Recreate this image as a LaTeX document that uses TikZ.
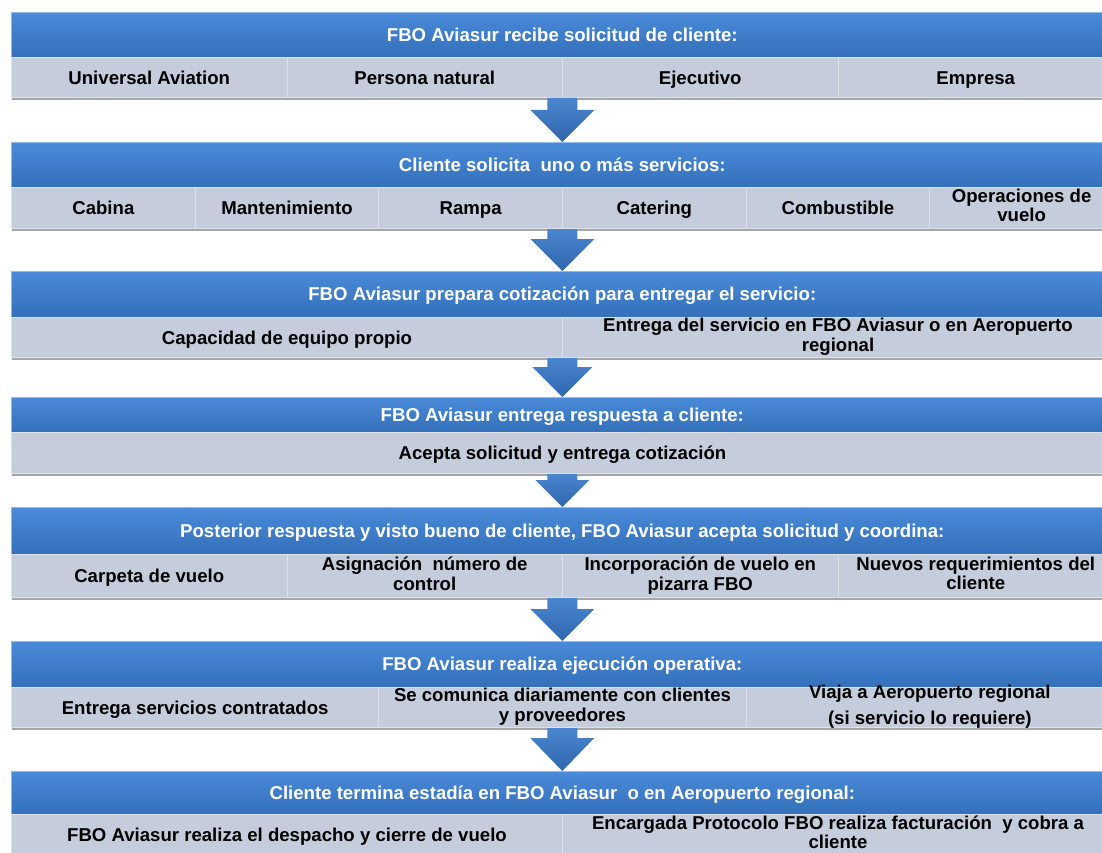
\documentclass[tikz,border=0pt]{standalone}
\usepackage{fontspec}
\setmainfont{Liberation Sans}
\usetikzlibrary{calc,shadows}
\definecolor{hTop}{HTML}{4A8AD8}
\definecolor{hBot}{HTML}{3470BA}
\definecolor{cellc}{HTML}{C5CDDD}
\definecolor{cellline}{HTML}{DCE1EA}
\definecolor{arrTop}{HTML}{4A86CF}
\definecolor{arrBot}{HTML}{2F66AE}
\newcommand\lowstrut{\rule[-5pt]{0pt}{23.2pt}}
\tikzset{
 txtfont/.style={font=\bfseries\fontsize{18.6}{19.5}\selectfont, execute at begin node={\lowstrut}, execute at end node={\lowstrut}},
 hdr/.style={anchor=north west, inner sep=0pt, minimum width=1102pt, top color=hTop, bottom color=hBot, draw=hTop!60!white, line width=0.6pt, text=white, txtfont},
 cell/.style={anchor=north west, inner sep=0pt, fill=cellc, draw=cellline, line width=1pt, text=black, align=center, txtfont, drop shadow={shadow xshift=0pt, shadow yshift=-2.5pt, opacity=0.35, fill=black}},
 barrow/.style={top color=arrTop, bottom color=arrBot, draw=none}
}
\newcommand\blockarrow[4]{%
  \path[barrow] let \p1=#1, \p2=#2 in
   (\x1-15pt,\y1) -- (\x1+15pt,\y1) -- (\x1+15pt,\y2+#3) -- (\x1+#4,\y2+#3) -- (\x1,\y2) -- (\x1-#4,\y2+#3) -- (\x1-15pt,\y2+#3) -- cycle;}
\begin{document}
\begin{tikzpicture}[x=1pt,y=-1pt]
\useasboundingbox (0,0) rectangle (1102,853);
\clip (0,0) rectangle (1102,853);
% Block 1
\node[hdr, minimum height=45pt] (h1) at (11,12) {FBO Aviasur recibe solicitud de cliente:};
\node[cell, minimum width=275.5pt, minimum height=40pt] (c1a) at (11,57) {Universal Aviation};
\node[cell, minimum width=275.5pt, minimum height=40pt] (c1b) at (286.5,57) {Persona natural};
\node[cell, minimum width=275.5pt, minimum height=40pt] (c1c) at (562,57) {Ejecutivo};
\node[cell, minimum width=275.5pt, minimum height=40pt] (c1d) at (837.5,57) {Empresa};
% Block 2
\node[hdr, minimum height=45pt] (h2) at (11,142) {Cliente solicita\ \ uno o más servicios:};
\node[cell, minimum width=183.67pt, minimum height=41pt] (c2a) at (11,187) {Cabina};
\node[cell, minimum width=183.67pt, minimum height=41pt] (c2b) at (194.67,187) {Mantenimiento};
\node[cell, minimum width=183.67pt, minimum height=41pt] (c2c) at (378.33,187) {Rampa};
\node[cell, minimum width=183.67pt, minimum height=41pt] (c2d) at (562,187) {Catering};
\node[cell, minimum width=183.67pt, minimum height=41pt] (c2e) at (745.67,187) {Combustible};
\node[cell, minimum width=183.67pt, minimum height=41pt] (c2f) at (929.33,187) {Operaciones de\\vuelo};
% Block 3
\node[hdr, minimum height=46pt] (h3) at (11,271) {FBO Aviasur prepara cotización para entregar el servicio:};
\node[cell, minimum width=551pt, minimum height=40pt] (c3a) at (11,317) {Capacidad de equipo propio};
\node[cell, minimum width=551pt, minimum height=40pt] (c3b) at (562,317) {Entrega del servicio en FBO Aviasur o en Aeropuerto\\regional};
% Block 4
\node[hdr, minimum height=35pt] (h4) at (11,397) {FBO Aviasur entrega respuesta a cliente:};
\node[cell, minimum width=1102pt, minimum height=41pt] (c4a) at (11,432) {Acepta solicitud y entrega cotización};
% Block 5
\node[hdr, minimum height=47pt] (h5) at (11,507) {Posterior respuesta y visto bueno de cliente, FBO Aviasur acepta solicitud y coordina:};
\node[cell, minimum width=275.5pt, minimum height=43pt] (c5a) at (11,554) {Carpeta de vuelo};
\node[cell, minimum width=275.5pt, minimum height=43pt] (c5b) at (286.5,554) {Asignación\ \ número de\\control};
\node[cell, minimum width=275.5pt, minimum height=43pt] (c5c) at (562,554) {Incorporación de vuelo en\\pizarra FBO};
\node[cell, minimum width=275.5pt, minimum height=43pt] (c5d) at (837.5,554) {Nuevos requerimientos del\\cliente};
% Block 6
\node[hdr, minimum height=46pt] (h6) at (11,641) {FBO Aviasur realiza ejecución operativa:};
\node[cell, minimum width=367.33pt, minimum height=40pt] (c6a) at (11,687) {Entrega servicios contratados};
\node[cell, minimum width=367.33pt, minimum height=40pt] (c6b) at (378.33,687) {Se comunica diariamente con clientes\\y proveedores};
\node[cell, minimum width=367.33pt, minimum height=40pt, inner ysep=-6pt] (c6c) at (745.67,687) {Viaja a Aeropuerto regional\\[6pt](si servicio lo requiere)};
% Block 7
\node[hdr, minimum height=43pt] (h7) at (11,771) {Cliente termina estadía en FBO Aviasur\ \ o en Aeropuerto regional:};
\node[cell, minimum width=551pt, minimum height=40pt] (c7a) at (11,814) {FBO Aviasur realiza el despacho y cierre de vuelo};
\node[cell, minimum width=551pt, minimum height=40pt] (c7b) at (562,814) {Encargada Protocolo FBO realiza facturación\ \ y cobra a\\cliente};
% Arrows
\blockarrow{(h1.center |- c1a.south)}{(h1.center |- h2.north)}{32pt}{32pt}
\blockarrow{(h2.center |- c2a.south)}{(h2.center |- h3.north)}{32pt}{32pt}
\blockarrow{(h3.center |- c3a.south)}{(h3.center |- h4.north)}{30pt}{30pt}
\blockarrow{(h4.center |- c4a.south)}{(h4.center |- h5.north)}{27pt}{27pt}
\blockarrow{(h5.center |- c5a.south)}{(h5.center |- h6.north)}{32pt}{32pt}
\blockarrow{(h6.center |- c6a.south)}{(h6.center |- h7.north)}{33pt}{32pt}
\end{tikzpicture}
\end{document}
